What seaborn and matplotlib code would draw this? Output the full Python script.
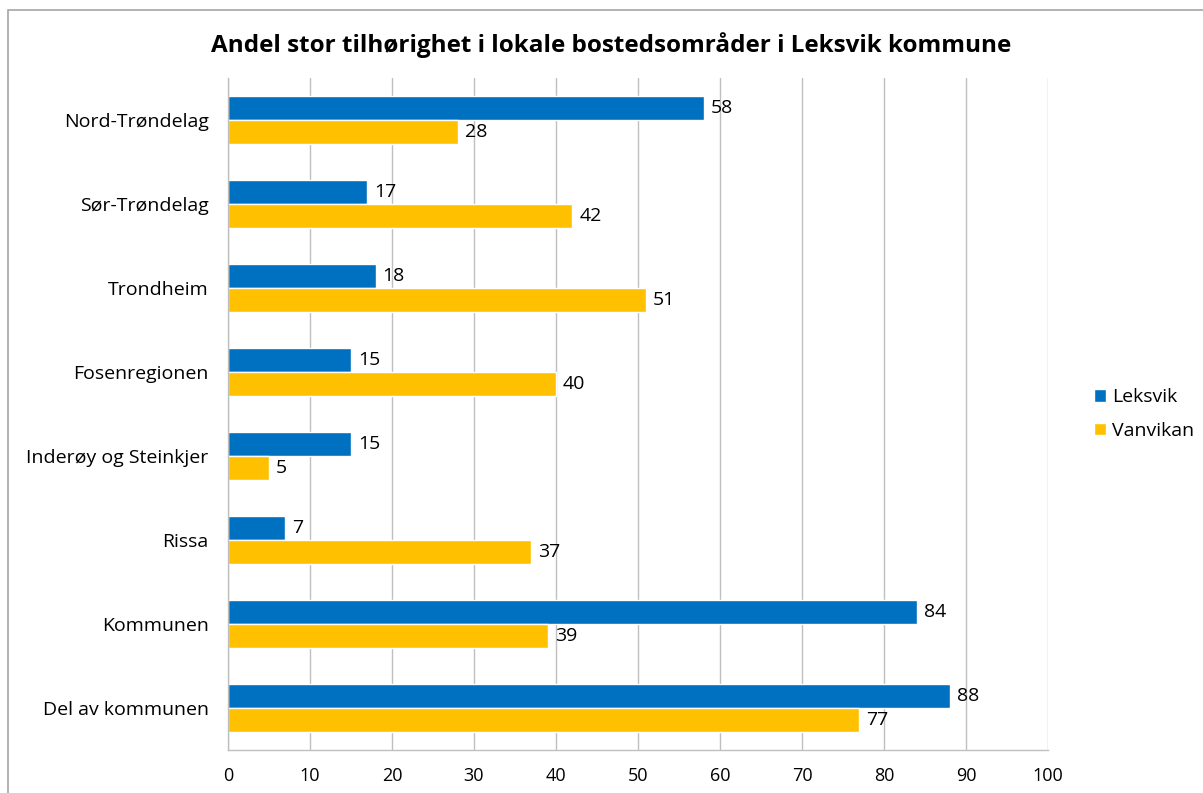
import seaborn as sns
import matplotlib.pyplot as plt
import matplotlib.patches as mpatches
import pandas as pd

# data
categories = ['Nord-Trøndelag', 'Sør-Trøndelag', 'Trondheim', 'Fosenregionen',
              'Inderøy og Steinkjer', 'Rissa', 'Kommunen', 'Del av kommunen']
leksvik = [58, 17, 18, 15, 15, 7, 84, 88]
vanvikan = [28, 42, 51, 40, 5, 37, 39, 77]
series = ['Leksvik', 'Vanvikan']
colors = ['#0070C0', '#FFC000']

df = pd.DataFrame({
    'omrade': categories * 2,
    'andel': leksvik + vanvikan,
    'sted': [series[0]] * len(categories) + [series[1]] * len(categories),
})

sns.set_style('white')
plt.rcParams['font.family'] = ['Open Sans', 'DejaVu Sans']
plt.rcParams['text.color'] = 'black'
plt.rcParams['xtick.color'] = 'black'
plt.rcParams['ytick.color'] = 'black'

fig = plt.figure(figsize=(12.03, 7.93), dpi=100)
ax = fig.add_axes([0.1895, 0.0542, 0.6817, 0.8474])

sns.barplot(data=df, y='omrade', x='andel', hue='sted', orient='h',
            palette=colors, width=0.57, saturation=1, ax=ax, errorbar=None)

for cont in ax.containers:
    ax.bar_label(cont, padding=5, fontsize=14)

ax.set_xlim(0, 100)
ax.set_ylim(7.5, -0.5)
ax.set_xticks(range(0, 101, 10))
ax.xaxis.grid(True, color='#bfbfbf', linewidth=1)
ax.set_axisbelow(True)
ax.set_xlabel('')
ax.set_ylabel('')
ax.tick_params(axis='x', labelsize=13, pad=12, length=0)
ax.tick_params(axis='y', labelsize=14, pad=14, length=0)
for s in ['top', 'right']:
    ax.spines[s].set_visible(False)
for s in ['left', 'bottom']:
    ax.spines[s].set_color('#bfbfbf')
    ax.spines[s].set_linewidth(1)

ax.legend(loc='center left', bbox_to_anchor=(1.035, 0.5), frameon=False,
          fontsize=14, handlelength=0.6, handleheight=0.6, handletextpad=0.3,
          labelspacing=0.8)

fig.suptitle('Andel stor tilhørighet i lokale bostedsområder i Leksvik kommune',
             x=0.508, y=0.96, fontsize=17.5, fontweight='bold')

fig.patches.append(mpatches.Rectangle((0.007, -0.01), 1.1, 0.997,
                                      transform=fig.transFigure, fill=False,
                                      edgecolor='#a6a6a6', linewidth=1.2))

fig.savefig('out.png', dpi=100)
